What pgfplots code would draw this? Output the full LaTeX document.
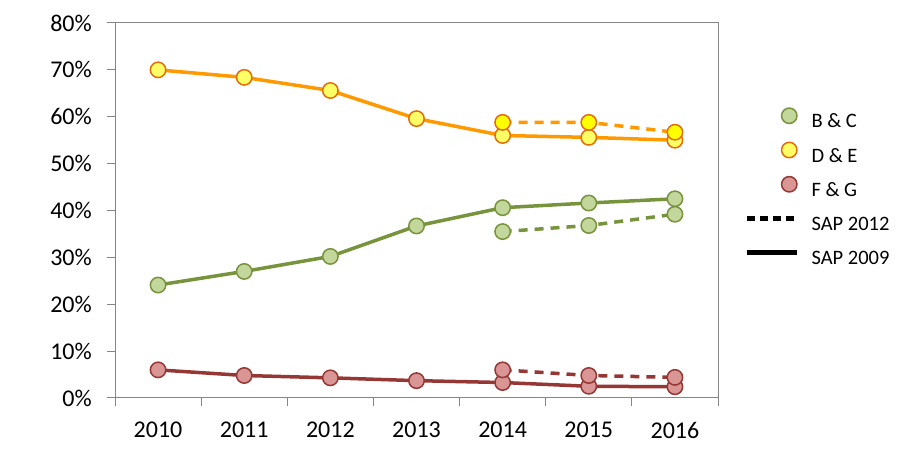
\documentclass[border=0pt]{standalone}
\usepackage{pgfplots}
\pgfplotsset{compat=1.18}
\usepackage{fontspec}
\setmainfont{Carlito}
\definecolor{gline}{HTML}{77933C}
\definecolor{gfill}{HTML}{C3D69B}
\definecolor{oline}{HTML}{FF9900}
\definecolor{oedge}{HTML}{E46C0A}
\definecolor{ofill}{HTML}{FFFF66}
\definecolor{ofill2}{HTML}{FFFF00}
\definecolor{rline}{HTML}{953735}
\definecolor{rfill}{HTML}{D99694}
\definecolor{axgray}{HTML}{868686}
\begin{document}
\begin{tikzpicture}
\path[use as bounding box] (-115bp,-52bp) rectangle (793bp,398bp);
\begin{axis}[
  at={(0,0)}, anchor=south west,
  scale only axis, width=603bp, height=375bp,
  xmin=-0.5, xmax=6.5, ymin=0, ymax=80,
  xtick={0,1,2,3,4,5,6},
  xticklabels={2010,2011,2012,2013,2014,2015,2016},
  minor xtick={-0.5,0.5,1.5,2.5,3.5,4.5,5.5,6.5},
  ytick={0,10,...,80},
  yticklabel={\pgfmathprintnumber{\tick}\%},
  /pgf/number format/assume math mode=true,
  axis line style={axgray, line width=1bp},
  tick align=outside, xtick pos=bottom, ytick pos=left,
  major tick length=8bp, minor tick length=8bp,
  tick style={axgray, line width=1bp},
  major x tick style={draw=none},
  minor x tick style={axgray, line width=1bp},
  tick label style={font=\fontsize{24bp}{28bp}\selectfont, inner sep=0pt},
  yticklabel style={xshift=-15bp},
  xticklabel style={yshift=-16bp},
  legend style={at={(1.0448,0.785)}, anchor=north west, draw=none, fill=none,
    inner sep=0pt, outer sep=0pt, font=\fontsize{20.5bp}{24bp}\selectfont,
    column sep=12bp, row sep=0pt,
    nodes={inner sep=0pt, minimum height=34.25bp, text depth=0pt}},
  legend cell align=left,
]
% B & C
\addplot[forget plot, gline, line width=3.5bp, mark=*, mark size=7.7bp,
  mark options={draw=gline, fill=gfill, line width=1.5bp, solid}]
  coordinates {(0,24.1)(1,27.0)(2,30.2)(3,36.7)(4,40.6)(5,41.6)(6,42.5)};
\addplot[forget plot, gline, line width=3.5bp, dash pattern=on 9bp off 7bp, mark=*, mark size=7.7bp,
  mark options={draw=gline, fill=gfill, line width=1.5bp, solid}]
  coordinates {(4,35.5)(5,36.8)(6,39.2)};
% D & E
\addplot[forget plot, oline, line width=3.5bp, mark=*, mark size=7.7bp,
  mark options={draw=oedge, fill=ofill, line width=1.5bp, solid}]
  coordinates {(0,70.0)(1,68.4)(2,65.6)(3,59.6)(4,56.0)(5,55.6)(6,55.0)};
\addplot[forget plot, oline, line width=3.5bp, dash pattern=on 9bp off 7bp, mark=*, mark size=7.7bp,
  mark options={draw=oedge, fill=ofill2, line width=1.5bp, solid}]
  coordinates {(4,58.8)(5,58.8)(6,56.7)};
% F & G
\addplot[forget plot, rline, line width=3.5bp, mark=*, mark size=7.7bp,
  mark options={draw=rline, fill=rfill, line width=1.5bp, solid}]
  coordinates {(0,6.0)(1,4.8)(2,4.3)(3,3.7)(4,3.3)(5,2.5)(6,2.4)};
\addplot[forget plot, rline, line width=3.5bp, dash pattern=on 9bp off 7bp, mark=*, mark size=7.7bp,
  mark options={draw=rline, fill=rfill, line width=1.5bp, solid}]
  coordinates {(4,6.0)(5,4.8)(6,4.4)};
% legend
\addlegendimage{legend image code/.code={\draw[mark=*, mark size=7.7bp, mark options={draw=gline,fill=gfill,line width=1.5bp}] plot coordinates {(42bp,5bp)};}}
\addlegendentry{B \& C}
\addlegendimage{legend image code/.code={\draw[mark=*, mark size=7.7bp, mark options={draw=oedge,fill=ofill,line width=1.5bp}] plot coordinates {(42bp,5bp)};}}
\addlegendentry{D \& E}
\addlegendimage{legend image code/.code={\draw[mark=*, mark size=7.7bp, mark options={draw=rline,fill=rfill,line width=1.5bp}] plot coordinates {(42bp,5bp)};}}
\addlegendentry{F \& G}
\addlegendimage{legend image code/.code={\draw[black, line width=4.5bp, dash pattern=on 8bp off 5bp] (0bp,5bp) -- (50bp,5bp);}}
\addlegendentry{SAP 2012}
\addlegendimage{legend image code/.code={\draw[black, line width=4.5bp] (0bp,5bp) -- (50bp,5bp);}}
\addlegendentry{SAP 2009}
\end{axis}
\end{tikzpicture}
\end{document}
